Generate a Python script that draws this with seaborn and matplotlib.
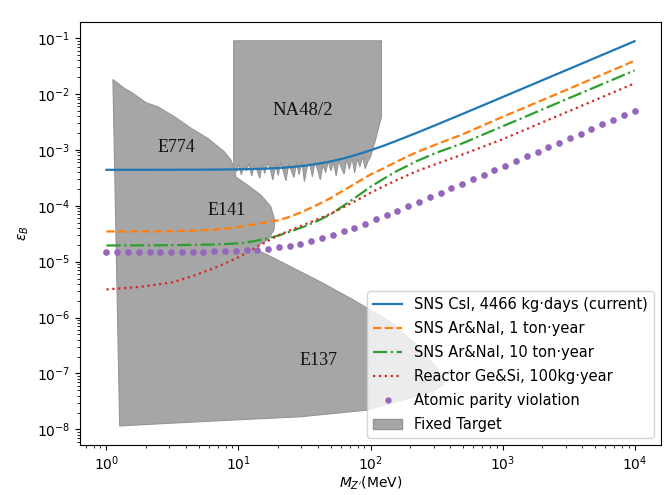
import matplotlib
matplotlib.use("Agg")
import matplotlib.pyplot as plt
import seaborn as sns
from matplotlib.patches import Patch
from matplotlib.lines import Line2D

# ---------------- data ----------------
mass_line = [1, 1.78, 3.16, 4.47, 6.31, 7.94, 10, 12.6, 15.8, 20, 25.1, 31.6, 39.8,
             50.1, 63.1, 79.4, 100, 126, 158, 224, 316, 501, 1000, 3162, 10000]

eps_csi = [4.40e-4, 4.40e-4, 4.41e-4, 4.42e-4, 4.44e-4, 4.46e-4, 4.49e-4, 4.54e-4,
           4.61e-4, 4.74e-4, 4.92e-4, 5.21e-4, 5.62e-4, 6.23e-4, 7.08e-4, 8.26e-4,
           9.84e-4, 1.19e-3, 1.46e-3, 2.02e-3, 2.82e-3, 4.43e-3, 8.81e-3, 2.78e-2, 8.80e-2]

eps_ar1 = [3.47e-5, 3.48e-5, 3.51e-5, 3.59e-5, 3.72e-5, 3.89e-5, 4.17e-5, 4.57e-5,
           5.01e-5, 5.50e-5, 6.46e-5, 8.13e-5, 1.05e-4, 1.38e-4, 1.91e-4, 2.63e-4,
           3.63e-4, 4.68e-4, 6.17e-4, 9.12e-4, 1.26e-3, 1.91e-3, 3.89e-3, 1.23e-2, 3.93e-2]

eps_ar10 = [1.95e-5, 1.96e-5, 1.97e-5, 2.00e-5, 2.02e-5, 2.07e-5, 2.13e-5, 2.29e-5,
            2.54e-5, 2.92e-5, 3.51e-5, 4.27e-5, 5.37e-5, 7.08e-5, 1.02e-4, 1.48e-4,
            2.19e-4, 3.05e-4, 4.17e-4, 6.31e-4, 8.91e-4, 1.32e-3, 2.64e-3, 8.36e-3, 2.64e-2]

eps_reactor = [3.19e-6, 3.53e-6, 4.27e-6, 5.50e-6, 7.41e-6, 9.33e-6, 1.20e-5, 1.62e-5,
               2.19e-5, 2.95e-5, 3.72e-5, 4.62e-5, 5.75e-5, 7.24e-5, 9.55e-5, 1.27e-4,
               1.70e-4, 2.24e-4, 2.88e-4, 4.17e-4, 5.62e-4, 8.32e-4, 1.55e-3, 4.90e-3, 1.55e-2]

apv_mass = [1.0, 1.207, 1.456, 1.758, 2.121, 2.560, 3.089, 3.728, 4.498, 5.429, 6.551,
            7.906, 9.541, 11.51, 13.89, 16.77, 20.24, 24.42, 29.47, 35.56, 42.92, 51.79,
            62.51, 75.43, 91.03, 109.9, 132.6, 160.0, 193.1, 233.0, 281.2, 339.3, 409.5,
            494.2, 596.4, 719.7, 868.5, 1048, 1265, 1526, 1842, 2223, 2683, 3237, 3907,
            4715, 5690, 6866, 8286, 10000]
apv_eps = [1.50e-5, 1.50e-5, 1.50e-5, 1.50e-5, 1.50e-5, 1.51e-5, 1.51e-5, 1.51e-5,
           1.52e-5, 1.52e-5, 1.54e-5, 1.55e-5, 1.57e-5, 1.61e-5, 1.65e-5, 1.72e-5,
           1.81e-5, 1.93e-5, 2.10e-5, 2.33e-5, 2.62e-5, 2.99e-5, 3.47e-5, 4.06e-5,
           4.79e-5, 5.70e-5, 6.80e-5, 8.14e-5, 9.77e-5, 1.17e-4, 1.41e-4, 1.70e-4,
           2.05e-4, 2.48e-4, 2.99e-4, 3.60e-4, 4.35e-4, 5.24e-4, 6.33e-4, 7.63e-4,
           9.21e-4, 1.11e-3, 1.34e-3, 1.62e-3, 1.95e-3, 2.36e-3, 2.85e-3, 3.43e-3,
           4.14e-3, 5.00e-3]

# Fixed target: E774 / E141 / E137 outline
ft_mass = [1.12, 1.37, 1.55, 2.00, 2.45, 3.28, 4.38, 5.86, 7.82, 8.78, 9.41, 9.58, 11.7,
           14.8, 17.6, 18.8, 18.6, 16.6, 12.8, 15.7, 24.9, 42.0, 74.4, 142, 238, 326,
           356, 299, 94.4, 29.6, 9.25, 2.92, 1.26]
ft_eps = [1.82e-2, 1.26e-2, 1.07e-2, 6.97e-3, 5.91e-3, 3.91e-3, 2.43e-3, 1.61e-3,
          9.25e-4, 6.58e-4, 4.01e-4, 3.26e-4, 2.34e-4, 1.55e-4, 9.59e-5, 5.55e-5,
          3.67e-5, 2.43e-5, 1.73e-5, 1.41e-5, 8.11e-6, 4.32e-6, 2.06e-6, 8.31e-7,
          2.85e-7, 1.15e-7, 6.21e-8, 4.84e-8, 2.21e-8, 1.68e-8, 1.47e-8, 1.28e-8, 1.15e-8]

# NA48/2: upper outline and the ragged lower edge
na48_top_mass = [9.2, 121, 121, 115.6, 109]
na48_top_eps = [8.95e-2, 8.95e-2, 3.91e-3, 2.59e-3, 1.50e-3]
na48_edge_mass = [9.2, 9.66, 10, 10.5, 11.0, 11.5, 12.0, 12.6, 13.2, 13.8, 14.5, 15.1,
                  15.8, 16.6, 17.4, 18.2, 19.1, 20.0, 20.9, 21.9, 22.9, 24.0, 25.1, 26.3,
                  27.5, 28.8, 30.2, 31.6, 33.1, 34.7, 36.3, 38.0, 39.8, 41.7, 43.7, 45.7,
                  47.9, 50.1, 52.5, 55.0, 57.5, 60.3, 63.1, 66.1, 69.2, 72.4, 75.9, 79.4,
                  83.2, 87.1, 91.2, 95.5, 100]
na48_edge_eps = [5.2e-4, 4.0e-4, 5.6e-4, 3.6e-4, 5.0e-4, 4.2e-4, 5.8e-4, 3.4e-4, 5.3e-4, 4.4e-4,
                 3.1e-4, 5.5e-4, 3.8e-4, 5.9e-4, 4.6e-4, 2.9e-4, 5.4e-4, 3.5e-4, 6.0e-4, 4.1e-4,
                 2.8e-4, 5.6e-4, 4.3e-4, 3.2e-4, 5.8e-4, 3.6e-4, 6.1e-4, 2.7e-4, 4.9e-4, 5.7e-4,
                 3.3e-4, 6.2e-4, 4.4e-4, 2.9e-4, 5.5e-4, 3.9e-4, 6.3e-4, 4.2e-4, 5.9e-4, 3.4e-4,
                 6.5e-4, 4.7e-4, 3.7e-4, 6.8e-4, 4.5e-4, 7.2e-4, 3.9e-4, 6.9e-4, 5.0e-4, 7.6e-4,
                 4.6e-4, 6.2e-4, 7.5e-4]

region_labels = ["E774", "E141", "NA48/2", "E137"]
region_label_mass = [3.38, 8.19, 30.5, 40.7]
region_label_eps = [1.11e-3, 8.38e-5, 5.15e-3, 1.69e-7]
region_label_size = [13, 13, 13.5, 13]

series_labels = ["SNS CsI, 4466 kg\u00b7days (current)",
                 "SNS Ar&NaI, 1 ton\u00b7year",
                 "SNS Ar&NaI, 10 ton\u00b7year",
                 "Reactor Ge&Si, 100kg\u00b7year",
                 "Atomic parity violation",
                 "Fixed Target"]

# ---------------- plot ----------------
fig = plt.figure(figsize=(6.64, 4.95), dpi=100)
ax = fig.add_axes([0.1205, 0.101, 0.875, 0.855])

gray_face = "#a6a6a6"
gray_edge = "#959595"
ax.fill(ft_mass, ft_eps, facecolor=gray_face, edgecolor=gray_edge, lw=0.8, zorder=1)
na48_x = na48_top_mass + na48_edge_mass[::-1]
na48_y = na48_top_eps + na48_edge_eps[::-1]
ax.fill(na48_x, na48_y, facecolor=gray_face, edgecolor=gray_edge, lw=0.8, zorder=1)

for t, xm, ye, fs in zip(region_labels, region_label_mass, region_label_eps, region_label_size):
    ax.text(xm, ye, t, fontfamily="Liberation Serif", fontsize=fs, color="#111111",
            ha="center", va="center", zorder=2)

sns.lineplot(x=mass_line, y=eps_csi, ax=ax, color="C0", lw=1.6, linestyle="-", zorder=3)
sns.lineplot(x=mass_line, y=eps_ar1, ax=ax, color="C1", lw=1.6, linestyle="--", zorder=3)
sns.lineplot(x=mass_line, y=eps_ar10, ax=ax, color="C2", lw=1.6, linestyle="-.", zorder=3)
sns.lineplot(x=mass_line, y=eps_reactor, ax=ax, color="C3", lw=1.6, linestyle=":", zorder=3)
sns.scatterplot(x=apv_mass, y=apv_eps, ax=ax, color="C4", s=23, linewidth=0, zorder=3)

ax.set_xscale("log")
ax.set_yscale("log")
ax.set_xlim(10 ** -0.2, 10 ** 4.2)
ax.set_ylim(10 ** -8.28, 10 ** -0.708)
ax.set_xlabel(r"$M_{Z'}$(MeV)", labelpad=1)
ax.set_ylabel(r"$\epsilon_B$")

handles = [
    Line2D([], [], color="C0", lw=1.6, ls="-"),
    Line2D([], [], color="C1", lw=1.6, ls="--"),
    Line2D([], [], color="C2", lw=1.6, ls="-."),
    Line2D([], [], color="C3", lw=1.6, ls=":"),
    Line2D([], [], color="C4", marker="o", ls="none", markersize=4.6, markeredgewidth=0),
    Patch(facecolor=gray_face, edgecolor=gray_edge),
]
ax.legend(handles, series_labels, loc="lower right", fontsize=10.5, labelspacing=0.62)

fig.savefig("out.png", dpi=100)
